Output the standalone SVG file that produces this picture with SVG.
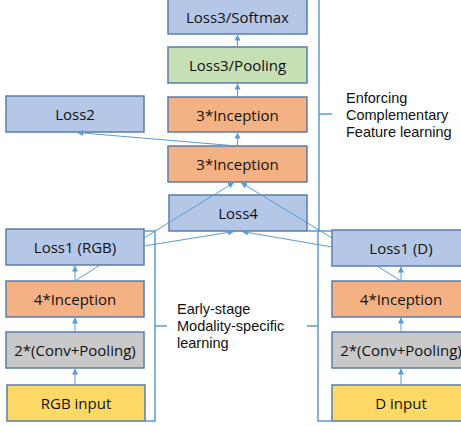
<svg xmlns="http://www.w3.org/2000/svg" width="461" height="427" viewBox="0 0 461 427">
<defs>
<marker id="ah" viewBox="0 0 10 10" refX="10" refY="5" markerWidth="6" markerHeight="6" orient="auto" markerUnits="userSpaceOnUse">
<path d="M0,0 L10,5 L0,10 z" fill="#5B9BD5"/>
</marker>
<style>
.box{stroke:#5A7DAA;stroke-width:1.5}
.blue{fill:#B4C7E7}
.green{fill:#C5E0B4}
.orange{fill:#F4B183}
.gray{fill:#C9C9C9}
.yellow{fill:#FFD966}
.t{font-family:"Open Sans","Liberation Sans",sans-serif;font-size:15px;fill:#111;text-anchor:middle;dominant-baseline:central}
.lbl{font-family:"Liberation Sans",Arial,sans-serif;font-size:14.5px;fill:#111}
.c{stroke:#5B9BD5;stroke-width:1;fill:none}
.a{marker-end:url(#ah)}
.br{stroke:#5B9BD5;stroke-width:1.5;fill:none}
</style>
</defs>
<rect width="461" height="427" fill="#fff"/>
<g id="loss3softmax"><rect class="box blue" x="168" y="-1" width="139" height="35"/><text class="t" x="237.5" y="17">Loss3/Softmax</text></g>
<g id="loss3pooling"><rect class="box green" x="168" y="47" width="139" height="36"/><text class="t" x="237.5" y="65">Loss3/Pooling</text></g>
<g id="inception3a"><rect class="box orange" x="168" y="97" width="139" height="35"/><text class="t" x="237.5" y="114.5">3*Inception</text></g>
<g id="inception3b"><rect class="box orange" x="168" y="146" width="139" height="36"/><text class="t" x="237.5" y="164">3*Inception</text></g>
<g id="loss4"><rect class="box blue" x="169" y="195" width="138" height="36"/><text class="t" x="238" y="213">Loss4</text></g>
<g id="loss2"><rect class="box blue" x="6" y="96" width="138" height="36"/><text class="t" x="75" y="114">Loss2</text></g>
<g id="loss1rgb"><rect class="box blue" x="6" y="229" width="138" height="36"/><text class="t" x="75" y="247">Loss1 (RGB)</text></g>
<g id="inc4rgb"><rect class="box orange" x="6" y="281" width="138" height="36"/><text class="t" x="75" y="299">4*Inception</text></g>
<g id="convrgb"><rect class="box gray" x="6" y="332" width="138" height="36"/><text class="t" x="75" y="350">2*(Conv+Pooling)</text></g>
<g id="rgbinput"><rect class="box yellow" x="7" y="385" width="138" height="36"/><text class="t" x="76" y="403">RGB input</text></g>
<g id="loss1d"><rect class="box blue" x="332" y="230" width="138" height="36"/><text class="t" x="401" y="248">Loss1 (D)</text></g>
<g id="inc4d"><rect class="box orange" x="332" y="281" width="138" height="36"/><text class="t" x="401" y="299">4*Inception</text></g>
<g id="convd"><rect class="box gray" x="332" y="332" width="138" height="36"/><text class="t" x="401" y="350">2*(Conv+Pooling)</text></g>
<g id="dinput"><rect class="box yellow" x="332" y="385" width="138" height="36"/><text class="t" x="401" y="403">D input</text></g>
<g id="connectors">
<line class="c a" x1="237.5" y1="47" x2="237.5" y2="34.5"/>
<line class="c a" x1="237.5" y1="97" x2="237.5" y2="83.5"/>
<line class="c a" x1="237.5" y1="146" x2="237.5" y2="132.5"/>
<line class="c a" x1="237" y1="146" x2="77" y2="132.5"/>
<line class="c a" x1="144" y1="238" x2="234" y2="182.5"/>
<line class="c a" x1="332" y1="238" x2="241" y2="182.5"/>
<line class="c a" x1="144" y1="246" x2="234" y2="231.5"/>
<line class="c a" x1="332" y1="247" x2="242" y2="231.5"/>
<line class="c a" x1="75" y1="385" x2="75" y2="368.5"/>
<line class="c a" x1="75" y1="332" x2="75" y2="317.5"/>
<line class="c a" x1="75" y1="281" x2="75" y2="265.5"/>
<line class="c" x1="75" y1="281" x2="100" y2="265"/>
<line class="c a" x1="401" y1="385" x2="401" y2="368.5"/>
<line class="c a" x1="401" y1="332" x2="401" y2="317.5"/>
<line class="c a" x1="401" y1="281" x2="401" y2="266.5"/>
<line class="c" x1="401" y1="281" x2="377" y2="266"/>
</g>
<g id="brackets">
<path class="br" d="M307,-4 H319 V231 H307 M319,114 H332"/>
<path class="br" d="M332,231 H318 V421 H332 M318,326 H307"/>
<path class="br" d="M144,231 H155 V421 H145 M155,326 H167"/>
</g>
<g id="labels">
<text class="lbl" x="346" y="103">Enforcing</text>
<text class="lbl" x="346" y="120">Complementary</text>
<text class="lbl" x="346" y="137">Feature learning</text>
<text class="lbl" x="177" y="314">Early-stage</text>
<text class="lbl" x="177" y="331">Modality-specific</text>
<text class="lbl" x="177" y="348">learning</text>
</g>
</svg>
